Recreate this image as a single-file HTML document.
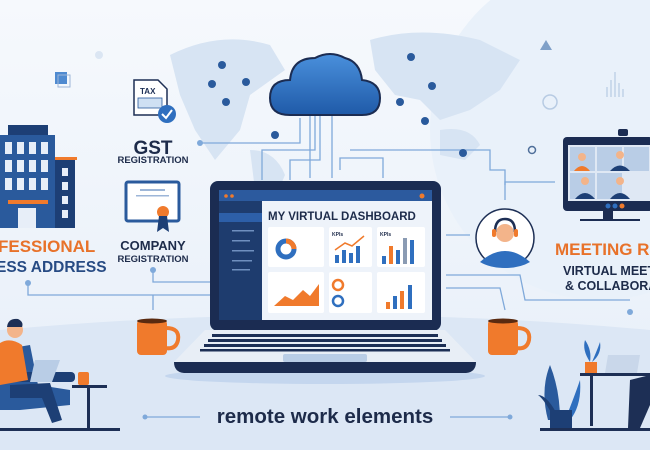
<!DOCTYPE html>
<html><head><meta charset="utf-8"><style>
html,body{margin:0;padding:0;background:#eef4fb}
svg{display:block}
text{font-family:"Liberation Sans",sans-serif;font-weight:bold}
</style></head><body>
<svg width="650" height="450" viewBox="0 0 650 450" xmlns="http://www.w3.org/2000/svg">
<defs>
<linearGradient id="bg" x1="0" y1="0" x2="0" y2="1"><stop offset="0" stop-color="#f6f9fd"/><stop offset="1" stop-color="#e6eef8"/></linearGradient>
<linearGradient id="cl" x1="0" y1="0" x2="0" y2="1"><stop offset="0" stop-color="#4a90dc"/><stop offset="1" stop-color="#1f5aa8"/></linearGradient>
</defs>
<rect width="650" height="450" fill="url(#bg)"/>
<circle cx="600" cy="130" r="170" fill="#e9f1fa"/>
<!-- world map blobs -->
<g fill="#d7e4f3">
<path d="M170 55 Q220 30 270 45 L285 70 L250 95 L240 130 L215 160 L195 130 L180 95 Z"/>
<path d="M250 150 Q275 150 285 175 L270 210 L255 190 Z"/>
<path d="M370 40 Q420 25 480 40 L520 60 L500 90 L470 110 L440 120 L420 100 L395 95 L375 70 Z"/>
<path d="M440 130 Q470 125 480 145 L465 160 L440 155 Z"/>
</g>
<!-- floor -->
<path d="M0 330 Q325 300 650 330 L650 450 L0 450 Z" fill="#dce7f5"/>
<ellipse cx="325" cy="376" rx="160" ry="8" fill="#c4d6ee"/>
<!-- connector lines -->
<g stroke="#7fa9da" stroke-width="1.3" fill="none">
<path d="M200 143 L300 143 L300 118"/>
<path d="M262 180 L262 150 L315 150 L315 115"/>
<path d="M290 180 L290 160 L320 160 L320 115"/>
<path d="M310 178 L310 115"/>
<path d="M332 178 L332 115"/>
<path d="M340 170 L340 158 L383 158 L383 178"/>
<path d="M350 150 L490 150 L490 170 L505 170 L505 200"/>
<path d="M505 185 L505 182 L555 182"/>
<path d="M28 283 L28 295 L210 295"/>
<path d="M153 270 L153 282 L210 282"/>
<path d="M153 295 L153 310"/>
<path d="M446 235 L470 235"/>
<path d="M446 275 L520 275 L525 300 L630 300"/>
<path d="M446 288 L500 288 L505 310"/>
<path d="M145 417 L200 417"/><path d="M450 417 L510 417"/>
</g>
<g fill="#7fa9da"><circle cx="200" cy="143" r="3"/><circle cx="28" cy="283" r="3"/><circle cx="153" cy="270" r="3"/><circle cx="630" cy="312" r="3"/><circle cx="145" cy="417" r="2.5"/><circle cx="510" cy="417" r="2.5"/></g>
<!-- pins -->
<g fill="#2a5a9c">
<circle cx="222" cy="65" r="4"/><circle cx="212" cy="84" r="4"/><circle cx="246" cy="82" r="4"/><circle cx="226" cy="102" r="4"/><circle cx="275" cy="135" r="4"/><circle cx="411" cy="57" r="4"/><circle cx="432" cy="86" r="4"/><circle cx="400" cy="102" r="4"/><circle cx="425" cy="121" r="4"/><circle cx="463" cy="153" r="4"/>
</g>
<!-- cloud -->
<path d="M290 115 Q270 115 270 98 Q270 80 290 80 Q292 58 315 58 Q330 50 345 58 Q360 62 362 80 Q380 82 380 98 Q380 115 362 115 Z" fill="url(#cl)" stroke="#1b2c52" stroke-width="2"/>
<!-- laptop -->
<rect x="210" y="181" width="231" height="150" rx="8" fill="#1b2c52"/>
<rect x="219" y="190" width="213" height="130" fill="#eef3fa"/>
<rect x="219" y="190" width="213" height="11" fill="#2c5a9e"/>
<circle cx="226" cy="196" r="1.8" fill="#f07a2c"/><circle cx="232" cy="196" r="1.8" fill="#f07a2c"/><circle cx="422" cy="196" r="2.5" fill="#f07a2c"/>
<rect x="219" y="201" width="43" height="119" fill="#1e3c6e"/>
<rect x="219" y="213" width="43" height="9" fill="#2d5fa8"/>
<g fill="#6f8fbf"><rect x="232" y="230" width="22" height="1.5"/><rect x="232" y="240" width="18" height="1.5"/><rect x="232" y="250" width="22" height="1.5"/><rect x="232" y="260" width="20" height="1.5"/><rect x="232" y="269" width="18" height="1.5"/></g>
<text x="268" y="220" font-size="11.5" fill="#1d2b4a">MY VIRTUAL DASHBOARD</text>
<g fill="#fff"><rect x="268" y="227" width="56" height="40" rx="2"/><rect x="329" y="227" width="43" height="40" rx="2"/><rect x="377" y="227" width="48" height="40" rx="2"/><rect x="268" y="272" width="56" height="41" rx="2"/><rect x="329" y="272" width="43" height="41" rx="2"/><rect x="377" y="272" width="48" height="41" rx="2"/></g>
<circle cx="286" cy="249" r="8" fill="none" stroke="#2f6fbf" stroke-width="5"/>
<path d="M286 241 A8 8 0 0 1 294 249" fill="none" stroke="#f07a2c" stroke-width="5"/>
<g fill="#2f6fbf"><rect x="335" y="255" width="4" height="8"/><rect x="342" y="250" width="4" height="13"/><rect x="349" y="253" width="4" height="10"/><rect x="356" y="246" width="4" height="17"/><rect x="382" y="256" width="4" height="8"/><rect x="396" y="250" width="4" height="14"/><rect x="410" y="240" width="4" height="24"/><rect x="403" y="238" width="4" height="26" fill="#8a9bb3"/></g>
<rect x="389" y="246" width="4" height="18" fill="#f07a2c"/>
<path d="M335 250 L345 243 L352 246 L364 236" stroke="#f07a2c" stroke-width="1.5" fill="none"/>
<text x="332" y="236" font-size="5" fill="#1d2b4a">KPIs</text><text x="380" y="236" font-size="5" fill="#1d2b4a">KPIs</text>
<path d="M274 306 L285 296 L293 300 L303 290 L310 296 L319 284 L319 306 Z" fill="#f07a2c"/>
<circle cx="338" cy="285" r="5" fill="none" stroke="#f07a2c" stroke-width="2.5"/><circle cx="338" cy="301" r="5" fill="none" stroke="#2f6fbf" stroke-width="2.5"/>
<rect x="386" y="302" width="4" height="7" fill="#f07a2c"/><rect x="393" y="296" width="4" height="13" fill="#2f6fbf"/><rect x="400" y="291" width="4" height="18" fill="#f07a2c"/><rect x="408" y="285" width="4" height="24" fill="#2f6fbf"/>
<!-- keyboard base -->
<path d="M205 330 L445 330 L476 362 L174 362 Z" fill="#e8eef6"/>
<g fill="#1d2f55"><rect x="212" y="334" width="226" height="3"/><rect x="208" y="339" width="234" height="3"/><rect x="204" y="344" width="242" height="3"/><rect x="200" y="349" width="250" height="2.5"/></g>
<rect x="283" y="354" width="84" height="8" rx="2" fill="#b9cde6"/>
<path d="M174 362 L476 362 Q476 372 466 373 L184 373 Q174 372 174 362 Z" fill="#1b2c52"/>
<!-- building -->
<rect x="0" y="135" width="55" height="93" fill="#2a5a9c"/><rect x="8" y="125" width="40" height="10" fill="#1d3f75"/>
<rect x="55" y="160" width="20" height="68" fill="#1d3f75"/><rect x="55" y="157" width="22" height="3" fill="#f07a2c"/>
<g fill="#e7eef8"><rect x="5" y="142" width="7" height="12"/><rect x="17" y="142" width="7" height="12"/><rect x="29" y="142" width="7" height="12"/><rect x="41" y="142" width="7" height="12"/><rect x="5" y="160" width="7" height="12"/><rect x="17" y="160" width="7" height="12"/><rect x="29" y="160" width="7" height="12"/><rect x="41" y="160" width="7" height="12"/><rect x="5" y="178" width="7" height="12"/><rect x="17" y="178" width="7" height="12"/><rect x="29" y="178" width="7" height="12"/><rect x="41" y="178" width="7" height="12"/><rect x="62" y="168" width="6" height="8"/><rect x="62" y="182" width="6" height="8"/><rect x="62" y="196" width="6" height="8"/><rect x="62" y="210" width="6" height="8"/><rect x="18" y="208" width="18" height="20"/></g>
<rect x="8" y="200" width="40" height="4" fill="#f07a2c"/>
<text x="-2" y="252" font-size="17" fill="#e8722a">FESSIONAL</text>
<text x="-4" y="272" font-size="15.5" fill="#274b84">ESS ADDRESS</text>
<!-- GST -->
<path d="M134 80 L158 80 L167 89 L167 115 L134 115 Z" fill="#fff" stroke="#1d2f55" stroke-width="1.5"/>
<text x="140" y="94" font-size="8" fill="#1d2f55">TAX</text>
<rect x="138" y="98" width="24" height="10" fill="#cfe0f3" stroke="#2a5a9c" stroke-width="0.8"/>
<circle cx="167" cy="114" r="9" fill="#2f6fbf"/><path d="M162 114 L166 118 L172 110" stroke="#fff" stroke-width="2" fill="none"/>
<text x="153" y="154" font-size="19" fill="#1d2b4a" text-anchor="middle">GST</text>
<text x="153" y="163" font-size="9.5" fill="#1d2b4a" text-anchor="middle">REGISTRATION</text>
<!-- certificate -->
<rect x="126" y="182" width="53" height="39" rx="2" fill="#fff" stroke="#2a5a9c" stroke-width="3"/>
<rect x="140" y="189" width="25" height="2" fill="#9db6d8"/><rect x="136" y="195" width="33" height="1.5" fill="#9db6d8"/>
<circle cx="163" cy="212" r="6" fill="#f07a2c"/><path d="M159 216 L157 232 L163 228 L169 232 L167 216Z" fill="#1d3f75"/>
<text x="153" y="250" font-size="13" fill="#1d2b4a" text-anchor="middle">COMPANY</text>
<text x="153" y="262" font-size="9.5" fill="#1d2b4a" text-anchor="middle">REGISTRATION</text>
<!-- small decorations -->
<rect x="55" y="72" width="12" height="12" fill="#4f8ad0"/><rect x="58" y="75" width="12" height="12" fill="none" stroke="#9db6d8"/>
<circle cx="99" cy="55" r="4" fill="#dbe6f3"/>
<path d="M546 40 L552 50 L540 50 Z" fill="#7fa0c8"/>
<circle cx="550" cy="102" r="7" fill="none" stroke="#b7cbe3" stroke-width="1.5"/>
<circle cx="532" cy="150" r="3.5" fill="none" stroke="#4f6f9a" stroke-width="1.5"/>
<g stroke="#b7cbe3" stroke-width="1.2"><path d="M607 97 V87 M611 97 V80 M615 97 V72 M619 97 V83 M623 97 V89"/></g>
<!-- headset person -->
<circle cx="505" cy="238" r="29" fill="#fff" stroke="#1d2f55" stroke-width="1.5"/>
<path d="M480 262 Q505 240 530 262 Q520 268 505 268 Q490 268 480 262 Z" fill="#2f6fbf"/>
<circle cx="505" cy="233" r="9" fill="#f3b48a"/>
<path d="M495 232 Q495 219 505 219 Q515 219 515 232" fill="none" stroke="#1d2f55" stroke-width="2.5"/>
<rect x="492" y="229" width="4" height="8" rx="2" fill="#f07a2c"/><rect x="514" y="229" width="4" height="8" rx="2" fill="#f07a2c"/>
<!-- monitor -->
<rect x="563" y="137" width="90" height="74" rx="4" fill="#1b2c52"/>
<rect x="568" y="145" width="82" height="56" fill="#dfe8f4"/>
<rect x="618" y="129" width="10" height="7" rx="2" fill="#1b2c52"/>
<g fill="#b9cde6"><rect x="570" y="147" width="25" height="24"/><rect x="597" y="147" width="25" height="24"/><rect x="624" y="147" width="25" height="24"/><rect x="570" y="173" width="25" height="26"/><rect x="597" y="173" width="25" height="26"/></g>
<g fill="#f3b48a"><circle cx="582" cy="157" r="4"/><circle cx="620" cy="155" r="4"/><circle cx="585" cy="181" r="4"/><circle cx="620" cy="181" r="4"/></g>
<path d="M574 171 Q582 161 590 171Z" fill="#f07a2c"/>
<g fill="#1d3f75"><path d="M610 171 Q620 160 630 171Z"/><path d="M575 199 Q585 187 595 199Z"/><path d="M610 199 Q620 187 630 199Z"/></g>
<circle cx="608" cy="206" r="2.5" fill="#2f6fbf"/><circle cx="615" cy="206" r="2.5" fill="#2f6fbf"/><circle cx="622" cy="206" r="2.5" fill="#f07a2c"/>
<rect x="603" y="211" width="10" height="8" fill="#1b2c52"/><rect x="580" y="219" width="60" height="2" fill="#1b2c52"/>
<text x="555" y="255" font-size="17" fill="#e8722a">MEETING R</text>
<text x="563" y="275" font-size="12.5" fill="#1d2b4a">VIRTUAL MEET</text>
<text x="565" y="290" font-size="12.5" fill="#1d2b4a">&amp; COLLABORA</text>
<!-- mugs -->
<g><rect x="137" y="320" width="30" height="35" rx="4" fill="#f07a2c"/><path d="M166 328 Q180 328 178 340 Q176 350 165 348" fill="none" stroke="#f07a2c" stroke-width="4"/><ellipse cx="152" cy="321" rx="15" ry="2.5" fill="#5a2a10"/></g>
<g><rect x="488" y="320" width="30" height="35" rx="4" fill="#f07a2c"/><path d="M517 328 Q531 328 529 340 Q527 350 516 348" fill="none" stroke="#f07a2c" stroke-width="4"/><ellipse cx="503" cy="321" rx="15" ry="2.5" fill="#5a2a10"/></g>
<!-- left person -->
<path d="M0 350 L30 345 L38 385 L70 390 L70 405 L20 410 L0 410 Z" fill="#2a5a9c"/>
<rect x="0" y="372" width="75" height="10" rx="4" fill="#1d3f75"/>
<circle cx="15" cy="330" r="8" fill="#f3b48a"/><path d="M7 327 Q8 318 18 319 Q24 322 22 327Z" fill="#1d2f55"/>
<path d="M0 343 Q10 337 22 345 L28 380 L0 385 Z" fill="#f07a2c"/>
<path d="M10 385 L50 383 L62 420 L52 423 L42 398 L10 398 Z" fill="#1d3f75"/>
<path d="M35 360 L60 360 L52 382 L30 382 Z" fill="#b9cde6"/>
<rect x="72" y="385" width="35" height="3" fill="#1d2f55"/><rect x="87" y="388" width="3" height="42" fill="#1d2f55"/>
<rect x="78" y="372" width="11" height="13" rx="2" fill="#f07a2c"/>
<rect x="0" y="428" width="120" height="3" fill="#1d2f55"/>
<!-- right person / desk -->
<rect x="580" y="373" width="70" height="3" fill="#1d2f55"/><rect x="590" y="376" width="3" height="50" fill="#1d2f55"/>
<path d="M608 355 L640 355 L637 373 L605 373 Z" fill="#c9d7ea"/>
<rect x="585" y="362" width="12" height="11" fill="#f07a2c"/>
<g fill="#2f6fbf"><path d="M590 362 Q582 350 585 340 Q592 350 590 362Z"/><path d="M592 362 Q598 348 600 342 Q602 354 592 362Z"/></g>
<path d="M548 420 Q540 390 550 365 Q560 390 560 420Z" fill="#2a5a9c"/><path d="M565 420 Q575 395 580 380 Q582 405 570 420Z" fill="#2f6fbf"/><path d="M555 420 Q545 400 538 395 Q548 395 560 420Z" fill="#1d3f75"/>
<rect x="550" y="410" width="22" height="20" fill="#1d3f75"/>
<path d="M630 380 L650 375 L650 405 L640 428 L628 428 Z" fill="#1d2f55"/>
<rect x="540" y="428" width="110" height="3" fill="#1d2f55"/>
<!-- caption -->
<text x="325" y="423" font-size="20.5" fill="#1d2b4a" text-anchor="middle">remote work elements</text>
</svg>
</body></html>
